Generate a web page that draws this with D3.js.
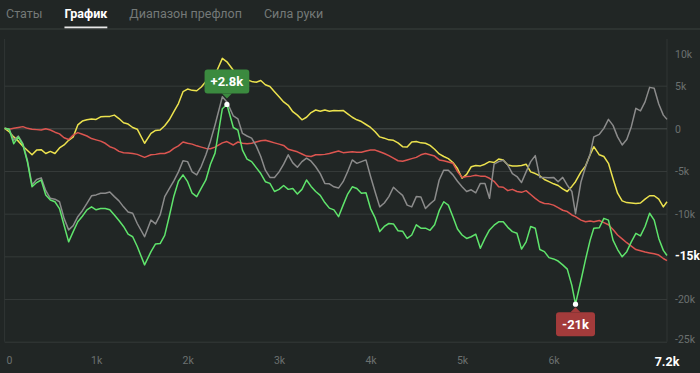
<!DOCTYPE html>
<html>
<head>
<meta charset="utf-8">
<script src="https://cdn.jsdelivr.net/npm/d3@7"></script>
<style>
  body { margin: 0; background: #212625; }
  svg { display: block; font-family: Roboto, 'Noto Sans', sans-serif; }
</style>
</head>
<body>
<svg width="700" height="373"></svg>
<script>
// tabs on top
const tabs = ['Статы', 'График', 'Диапазон префлоп', 'Сила руки'];
const activeTab = 'График';

// hands played, thousands
const hands = [
  0, 0.05, 0.1, 0.15, 0.2, 0.25, 0.3, 0.35, 0.4, 0.45,
  0.5, 0.55, 0.6, 0.65, 0.7, 0.75, 0.8, 0.85, 0.9, 0.95,
  1.0, 1.05, 1.1, 1.15, 1.2, 1.25, 1.3, 1.35, 1.4, 1.45,
  1.53, 1.6, 1.65, 1.7, 1.75, 1.8, 1.85, 1.9, 1.95,
  2.0, 2.05, 2.1, 2.15, 2.2, 2.25, 2.3, 2.38, 2.43,
  2.5, 2.55, 2.6, 2.65, 2.7, 2.75, 2.8, 2.85, 2.9, 2.95,
  3.0, 3.05, 3.1, 3.15, 3.2, 3.25, 3.3, 3.35, 3.4, 3.45,
  3.5, 3.55, 3.6, 3.65, 3.7, 3.75, 3.8, 3.85, 3.9, 3.95,
  4.0, 4.05, 4.1, 4.15, 4.2, 4.25, 4.3, 4.35, 4.4, 4.45,
  4.5, 4.55, 4.6, 4.65, 4.7, 4.75, 4.8, 4.85, 4.9, 4.95,
  5.0, 5.05, 5.1, 5.15, 5.2, 5.25, 5.3, 5.35, 5.4, 5.45,
  5.5, 5.55, 5.6, 5.65, 5.7, 5.75, 5.8, 5.85, 5.9, 5.95,
  6.0, 6.05, 6.1, 6.15, 6.2, 6.24, 6.3, 6.35, 6.4, 6.44,
  6.5, 6.55, 6.6, 6.65, 6.7, 6.75, 6.8, 6.85, 6.9, 6.95,
  7.0, 7.05, 7.1, 7.15, 7.2, 7.24];

// winnings, thousands
const yellowValues = [
  0, -0.4, -1.0, -1.5, -2.1, -2.6, -3.1, -2.55, -2.5, -2.95,
  -2.7, -2.95, -2.3, -1.95, -1.4, -1.0, 0.4, 0.85, 1.0, 1.1,
  1.05, 1.35, 1.4, 1.4, 1.55, 1.15, 0.65, 0.5, 0.1, -0.1,
  -1.75, -0.6, -0.25, -0.2, 0.3, 1.0, 1.95, 2.9, 4.3,
  4.6, 4.45, 4.4, 4.85, 5.5, 5.95, 6.25, 8.2, 7.8,
  6.8, 6.3, 5.9, 5.7, 5.5, 5.4, 5.6, 5.1, 4.9, 4.3,
  3.7, 3.1, 2.7, 1.95, 1.55, 1.0, 1.3, 1.85, 2.15, 2.0,
  2.15, 2.0, 2.1, 2.05, 2.1, 1.7, 1.3, 1.0, 0.8, 0.45,
  0.1, -0.4, -1.0, -1.15, -1.35, -1.4, -1.7, -2.15, -2.2, -1.6,
  -1.55, -1.7, -1.75, -2.0, -2.45, -3.0, -3.3, -3.55, -4.0, -4.7,
  -5.85, -5.4, -4.5, -4.35, -4.4, -4.2, -3.9, -4.0, -3.6, -3.7,
  -4.3, -4.4, -4.4, -4.35, -4.2, -5.1, -5.3, -5.55, -6.0, -6.25,
  -6.5, -6.7, -7.1, -7.4, -6.8, -6.25, -5.1, -4.4, -3.1, -2.15,
  -3.1, -3.3, -4.1, -5.9, -7.6, -8.5, -8.7, -8.75, -8.8, -8.75,
  -8.3, -7.9, -7.9, -8.3, -9.2, -8.6];

const redValues = [
  0, -0.1, 0, 0.1, 0.2, 0, -0.1, -0.15, -0.2, -0.05,
  -0.2, -0.45, -0.65, -1.1, -1.3, -0.8, -0.5, -0.7, -0.9, -1.2,
  -1.35, -1.5, -1.75, -2.15, -2.35, -2.7, -2.85, -2.9, -2.95, -3.05,
  -3.4, -3.1, -3.05, -2.95, -2.95, -2.75, -2.35, -2.05, -1.6,
  -1.75, -1.85, -2.05, -2.2, -2.35, -2.4, -2.2, -1.7, -1.55,
  -1.95, -1.6, -1.75, -1.8, -1.75, -1.6, -1.45, -1.4, -1.55, -1.7,
  -1.85, -2.0, -2.45, -2.6, -2.75, -3.0, -3.25, -3.3, -3.1, -3.1,
  -3.05, -2.95, -2.8, -2.65, -2.85, -2.8, -2.75, -2.8, -2.8, -2.65,
  -2.55, -2.55, -2.75, -2.95, -3.2, -3.5, -3.8, -3.85, -3.7, -3.55,
  -3.4, -3.1, -2.95, -3.1, -3.25, -3.7, -3.8, -3.95, -4.1, -5.05,
  -5.75, -5.65, -5.6, -5.5, -5.6, -5.6, -5.85, -6.2, -6.85, -6.9,
  -7.3, -7.15, -7.4, -7.5, -7.3, -7.75, -8.2, -8.6, -8.8, -8.85,
  -9.0, -9.3, -9.6, -9.75, -10.15, -10.35, -10.75, -10.95, -10.85, -10.95,
  -10.8, -11.05, -11.3, -11.85, -12.5, -12.95, -13.4, -13.8, -14.2, -14.35,
  -14.5, -14.6, -14.7, -14.85, -15.25, -15.5];

const grayValues = [
  0, -0.1, -1.4, -0.9, -1.8, -3.8, -6.6, -6.0, -5.8, -7.3,
  -8.2, -8.3, -8.6, -10.55, -11.9, -11.4, -10.35, -9.65, -8.8, -7.9,
  -7.8, -7.6, -7.6, -7.45, -8.0, -8.5, -9.2, -9.8, -9.95, -11.15,
  -12.7, -10.75, -11.2, -10.15, -8.0, -7.05, -6.15, -5.1, -3.8,
  -3.9, -5.1, -5.45, -4.45, -3.1, -1.5, 0.4, 3.7, 3.1,
  1.45, 1.1, -0.6, -0.9, -1.15, -2.05, -3.3, -4.9, -5.75, -5.75,
  -5.1, -4.2, -3.1, -4.05, -4.55, -3.9, -3.5, -3.85, -4.5, -5.3,
  -6.45, -6.5, -6.85, -7.0, -6.25, -5.05, -3.7, -4.1, -3.9, -3.7,
  -5.65, -7.45, -9.2, -8.75, -8.0, -6.9, -7.4, -7.85, -9.0, -9.2,
  -8.0, -8.05, -9.4, -8.85, -8.4, -6.05, -4.9, -4.9, -5.45, -6.2,
  -6.85, -7.4, -7.2, -7.55, -6.45, -6.45, -8.2, -4.2, -3.9, -3.75,
  -4.3, -5.3, -5.65, -6.35, -5.1, -3.9, -3.2, -5.75, -5.75, -5.8,
  -5.75, -6.25, -5.75, -6.65, -7.4, -10.0, -6.25, -4.5, -3.0, -1.0,
  -0.7, 0, 1.05, 0.35, -1.0, -1.95, -1.3, 0.2, 2.35, 2.05,
  3.1, 4.8, 4.7, 2.85, 1.55, 1.05];

const greenValues = [
  0, -0.1, -1.8, -1.0, -1.95, -3.95, -6.85, -6.35, -6.05, -7.8,
  -8.4, -8.6, -9.4, -11.35, -13.3, -12.1, -10.95, -10.3, -9.55, -9.2,
  -9.55, -9.4, -9.4, -9.55, -10.15, -10.8, -11.5, -12.4, -12.7, -13.85,
  -16.0, -14.45, -13.55, -13.5, -12.55, -10.3, -7.95, -6.2, -5.45,
  -6.25, -7.6, -8.0, -7.0, -6.05, -4.2, -2.9, 2.3, 2.8,
  0.1, -0.2, -2.55, -3.6, -3.9, -4.6, -5.3, -6.25, -6.45, -7.4,
  -7.15, -6.7, -7.15, -7.05, -7.7, -7.15, -6.05, -6.8, -7.4, -7.85,
  -8.7, -9.35, -9.55, -10.35, -9.0, -7.7, -6.85, -7.05, -7.6, -7.55,
  -9.4, -10.5, -12.1, -11.5, -11.15, -11.2, -12.0, -12.05, -12.9, -12.5,
  -11.3, -11.7, -11.7, -11.95, -11.3, -9.65, -8.6, -9.0, -10.35, -11.8,
  -12.5, -12.9, -12.7, -12.4, -14.05, -12.9, -11.9, -11.35, -10.95, -10.95,
  -11.6, -12.1, -12.3, -14.15, -13.3, -11.5, -11.7, -14.2, -14.45, -15.15,
  -15.3, -15.55, -16.0, -16.5, -18.4, -20.6, -17.8, -15.35, -13.1, -11.7,
  -11.65, -10.55, -10.75, -13.1, -14.2, -15.05, -14.45, -13.3, -12.3, -12.6,
  -11.5, -9.95, -10.75, -12.9, -14.3, -14.9];

const xTicks = [0, 1, 2, 3, 4, 5, 6];
const yTicks = [10, 5, 0, -5, -10, -15, -20, -25];

const series = [
  { name: 'yellow', values: yellowValues, color: '#ece24e' },
  { name: 'red', values: redValues, color: '#dc5550' },
  { name: 'gray', values: grayValues, color: '#8b8b8b' },
  { name: 'green', values: greenValues, color: '#5fe46c' }
];

const svg = d3.select('svg');
const width = +svg.attr('width');
const height = +svg.attr('height');

const margin = { top: 43, right: 33, bottom: 31.3, left: 4.6 };
const innerWidth = width - margin.left - margin.right;
const innerHeight = height - margin.top - margin.bottom;

const fmtK = v => {
  const a = Math.abs(v);
  return (a >= 10 ? d3.format('.0f')(v) : d3.format('.1f')(v)).replace('\u2212', '-') + 'k';
};

// ---- tabs
const tabG = svg.append('g');
let tx = 6;
tabs.forEach(t => {
  const active = t === activeTab;
  const txt = tabG.append('text')
    .attr('x', tx)
    .attr('y', 18)
    .attr('fill', active ? '#ffffff' : '#747978')
    .style('font-size', '12.5px')
    .style('font-weight', active ? 700 : 400)
    .text(t);
  const w = txt.node().getComputedTextLength();
  if (active) {
    tabG.append('rect')
      .attr('x', tx).attr('y', 26.5)
      .attr('width', w).attr('height', 2)
      .attr('fill', '#e8e8e8');
  }
  tx += w + 22;
});
svg.append('rect')
  .attr('x', 0).attr('y', 28.5)
  .attr('width', width).attr('height', 1)
  .attr('fill', '#3b403f');

// ---- chart
const xScale = d3.scaleLinear()
  .domain([0, d3.max(hands)])
  .range([0, innerWidth]);

const yScale = d3.scaleLinear()
  .domain([-25, 10])
  .range([innerHeight, 0]);

const g = svg.append('g')
  .attr('transform', `translate(${margin.left},${margin.top})`);

// side borders
[0, innerWidth].forEach(x => {
  g.append('line')
    .attr('x1', x).attr('x2', x)
    .attr('y1', -4).attr('y2', innerHeight)
    .attr('stroke', '#303534');
});

const lastGreen = greenValues[greenValues.length - 1];

const yAxis = d3.axisRight(yScale)
  .tickValues(yTicks)
  .tickSize(-innerWidth)
  .tickPadding(8)
  .tickFormat(d => d === 0 ? '0' : d + 'k');

const yAxisG = g.append('g')
  .attr('transform', `translate(${innerWidth},0)`)
  .call(yAxis);
yAxisG.select('.domain').remove();
yAxisG.selectAll('.tick line')
  .attr('stroke', d => d === 0 ? '#4a4f4e' : '#353a39')
  .attr('stroke-opacity', d => d === 10 ? 0 : 1);
yAxisG.selectAll('.tick text')
  .attr('fill', '#6c7170')
  .style('font-family', 'Roboto, sans-serif')
  .style('font-size', '10.5px')
  .attr('y', d => {
    const y = yScale(d);
    return Math.max(11, Math.min(innerHeight - 2.5, y)) - y;
  })
  .attr('dy', '0.35em')
  .style('display', d => d === -15 ? 'none' : null);

const xAxis = d3.axisBottom(xScale)
  .tickValues(xTicks)
  .tickSize(0)
  .tickPadding(15)
  .tickFormat(d => d === 0 ? '0' : d + 'k');

const xAxisG = g.append('g')
  .attr('transform', `translate(0,${innerHeight})`)
  .call(xAxis);
xAxisG.select('.domain').remove();
xAxisG.selectAll('.tick text')
  .attr('fill', '#6c7170')
  .style('font-family', 'Roboto, sans-serif')
  .style('font-size', '10.5px')
  .attr('text-anchor', d => d === 0 ? 'start' : 'middle')
  .attr('x', d => d === 0 ? 1.5 : 0);

// last value labels
g.append('text')
  .attr('x', xScale(hands[hands.length - 1]))
  .attr('y', innerHeight + 15)
  .attr('dy', '0.71em')
  .attr('text-anchor', 'middle')
  .attr('fill', '#ffffff')
  .style('font-size', '12.5px')
  .style('font-weight', 700)
  .text(d3.format('.1f')(hands[hands.length - 1]) + 'k');

g.append('text')
  .attr('x', innerWidth + 8)
  .attr('y', yScale(lastGreen))
  .attr('dy', '0.35em')
  .attr('fill', '#ffffff')
  .style('font-size', '12px')
  .style('font-weight', 700)
  .text(fmtK(lastGreen));

// lines
const line = d3.line()
  .x((d, i) => xScale(hands[i]))
  .y(d => yScale(d));

g.selectAll('path.series').data(series)
  .enter().append('path')
    .attr('class', 'series')
    .attr('fill', 'none')
    .attr('stroke', d => d.color)
    .attr('stroke-width', 1.5)
    .attr('stroke-linejoin', 'round')
    .attr('d', d => line(d.values));

// max / min badges for green
const badge = (i, fill, above) => {
  const cx = xScale(hands[i]);
  const cy = yScale(greenValues[i]);
  const v = greenValues[i];
  const bg = g.append('g');
  const t = bg.append('text')
    .attr('x', cx)
    .attr('text-anchor', 'middle')
    .attr('fill', '#ffffff')
    .style('font-size', '13px')
    .style('font-weight', 700)
    .text((v > 0 ? '+' : '') + fmtK(v));
  const w = t.node().getComputedTextLength() + 12;
  const h = 24;
  const top = above ? cy - 11 - h : cy + 8;
  const edge = above ? top + h : top;
  const tip = above ? edge + 5 : edge - 5;
  bg.insert('rect', 'text')
    .attr('x', cx - w / 2).attr('y', top)
    .attr('width', w).attr('height', h)
    .attr('rx', 3)
    .attr('fill', fill);
  bg.insert('path', 'text')
    .attr('d', `M${cx - 5},${edge}L${cx + 5},${edge}L${cx},${tip}Z`)
    .attr('fill', fill);
  t.attr('y', top + h / 2).attr('dy', '0.35em');
  g.append('circle')
    .attr('cx', cx).attr('cy', cy)
    .attr('r', 2.6)
    .attr('fill', '#ffffff');
};

badge(d3.maxIndex(greenValues), '#3b8a3f', true);
badge(d3.minIndex(greenValues), '#a33b3b', false);
</script>
</body>
</html>
